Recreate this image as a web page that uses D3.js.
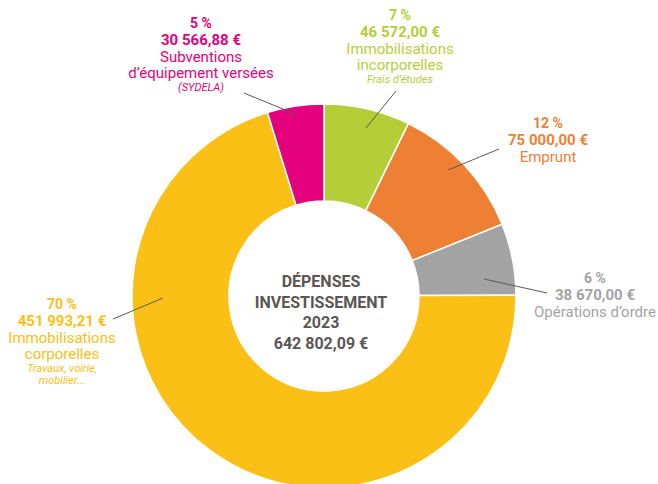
<!DOCTYPE html>
<html><head><meta charset="utf-8">
<script src="https://cdn.jsdelivr.net/npm/d3@7"></script>
<style>
html,body{margin:0;padding:0;background:#fff;}
svg{display:block;font-family:Roboto, "Open Sans", sans-serif;}
</style></head>
<body><svg id="c" width="658" height="484"></svg>
<script>
// ---- data ----
const categories = ["Immobilisations incorporelles","Emprunt","Opérations d’ordre","Immobilisations corporelles","Subventions d’équipement versées"];
const values = [46572.00, 75000.00, 38670.00, 451993.21, 30566.88];
const percents = ["7 %","12 %","6 %","70 %","5 %"];
const amounts = ["46 572,00 €","75 000,00 €","38 670,00 €","451 993,21 €","30 566,88 €"];
const nameLines = [["Immobilisations","incorporelles"],["Emprunt"],["Opérations d’ordre"],["Immobilisations","corporelles"],["Subventions","d’équipement versées"]];
const noteLines = [["Frais d’études"],[],[],["Travaux, voirie,","mobilier..."],["(SYDELA)"]];
const centerLines = ["DÉPENSES","INVESTISSEMENT","2023","642 802,09 €"];
const colors = ["#B5CE38","#EE8034","#A3A3A3","#FBC015","#E5007D"];

// ---- layout (styling, not data) ----
const cx = 324, cy = 296, rOuter = 192, rInner = 95;
const labelLayout = [
  {x:400, y:20,  line:[[396,91],[366,128]]},
  {x:548, y:128, line:[[499,149],[448,170]]},
  {x:595, y:283, line:[[547,293],[484,279]]},
  {x:62,  y:309, line:[[113,319],[163,298]]},
  {x:201, y:28,  line:[[244,93],[295,114]]}
];

const svg = d3.select("#c");
const g = svg.append("g").attr("transform",`translate(${cx},${cy})`);
const pie = d3.pie().sort(null).value(d=>d)(values);
const arc = d3.arc().innerRadius(rInner).outerRadius(rOuter);

g.selectAll("path").data(pie).join("path")
  .attr("d",arc)
  .attr("fill",(d,i)=>colors[i])
  .attr("stroke","#fff").attr("stroke-width",1.5);

// leader lines
svg.selectAll("line.lead").data(labelLayout).join("line")
  .attr("class","lead")
  .attr("x1",d=>d.line[0][0]).attr("y1",d=>d.line[0][1])
  .attr("x2",d=>d.line[1][0]).attr("y2",d=>d.line[1][1])
  .attr("stroke","#58595b").attr("stroke-width",1);

// labels
labelLayout.forEach((L,i)=>{
  const t = svg.append("text").attr("text-anchor","middle").attr("fill",colors[i]);
  let y = L.y;
  t.append("tspan").attr("x",L.x).attr("y",y).attr("font-weight","bold").attr("font-size",14).text(percents[i]);
  y += 17;
  t.append("tspan").attr("x",L.x).attr("y",y).attr("font-weight","bold").attr("font-size",15).text(amounts[i]);
  nameLines[i].forEach(s=>{
    y += 16.5;
    t.append("tspan").attr("x",L.x).attr("y",y).attr("font-size",15).text(s);
  });
  noteLines[i].forEach((s,k)=>{
    y += (k===0 ? 13 : 12);
    t.append("tspan").attr("x",L.x).attr("y",y).attr("font-size",11).attr("font-style","italic").text(s);
  });
});

// center text
const ct = svg.append("text").attr("text-anchor","middle").attr("fill","#5a5653").attr("font-weight","bold").attr("font-size",16);
centerLines.forEach((s,k)=>{
  ct.append("tspan").attr("x",cx-3).attr("y",287 + k*20.7).text(s);
});
</script>
</body></html>
